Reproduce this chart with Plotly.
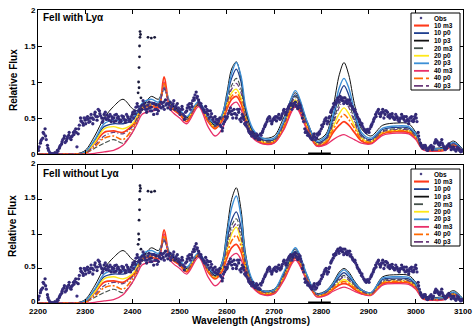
import plotly.graph_objects as go

W, H = 473, 328

# ---------------- data ----------------
model_wavelength = [2200, 2280, 2300, 2320, 2340, 2360, 2380, 2400, 2410, 2420,
                    2440, 2455, 2467, 2480, 2500, 2515, 2540, 2560, 2575, 2590,
                    2600, 2610, 2620, 2630, 2640, 2655, 2675, 2700, 2720, 2745,
                    2770, 2790, 2810, 2825, 2838, 2848, 2858, 2870, 2885, 2905,
                    2930, 2960, 2985, 3000, 3015, 3040, 3060, 3080, 3100]

obs_wavelength = list(range(2200, 3105, 5))
obs_flux = [
    0.08, 0.15, 0.22, 0.35, 0.12, 0.02, 0.0, 0.0, 0.01, 0.08, 0.14, 0.22, 0.18, 0.26, 0.2, 0.3, 0.35, 0.28, 0.5, 0.43,
    0.47, 0.52, 0.45, 0.5, 0.55, 0.47, 0.6, 0.5, 0.55, 0.48, 0.52, 0.45, 0.5, 0.46, 0.52, 0.47, 0.5, 0.44, 0.52, 0.48,
    0.55, 0.6, 0.7, 0.62, 0.62, 0.7, 0.58, 0.72, 0.65, 0.55, 0.68, 0.6, 0.72, 0.66, 0.75, 0.64, 0.72, 0.68, 0.62, 0.7,
    0.58, 0.66, 0.48, 0.6, 0.65, 0.7, 0.78, 0.86, 0.75, 0.7, 0.62, 0.66, 0.55, 0.6, 0.48, 0.52, 0.42, 0.5, 0.32, 0.45,
    0.5, 0.6, 0.55, 0.62, 0.5, 0.58, 0.45, 0.52, 0.4, 0.35, 0.28, 0.3, 0.22, 0.26, 0.2, 0.3, 0.38, 0.45, 0.52, 0.42,
    0.5, 0.46, 0.55, 0.5, 0.6, 0.55, 0.64, 0.7, 0.66, 0.72, 0.63, 0.68, 0.5, 0.35, 0.3, 0.25, 0.2, 0.28, 0.22, 0.3,
    0.35, 0.42, 0.5, 0.45, 0.58, 0.65, 0.72, 0.78, 0.8, 0.74, 0.78, 0.7, 0.75, 0.66, 0.6, 0.55, 0.48, 0.4, 0.35, 0.3,
    0.32, 0.38, 0.45, 0.55, 0.6, 0.52, 0.62, 0.55, 0.58, 0.5, 0.56, 0.48, 0.52, 0.45, 0.55, 0.48, 0.52, 0.42, 0.5, 0.45,
    0.55, 0.3, 0.15, 0.08, 0.12, 0.05, 0.1, 0.06, 0.15, 0.18, 0.12, 0.2, 0.1, 0.08, 0.14, 0.06, 0.1, 0.04, 0.08, 0.03, 0.05,
]
# second set of observed points, interleaved half a step
obs_wavelength_b = [2202.5 + 5 * k for k in range(180)]
obs_flux_b = [
    0.1, 0.2, 0.28, 0.2, 0.05, 0.0, 0.0, 0.0, 0.04, 0.12, 0.2, 0.16, 0.24, 0.22, 0.25, 0.32, 0.1, 0.4, 0.45, 0.5,
    0.5, 0.44, 0.55, 0.48, 0.52, 0.62, 0.53, 0.46, 0.58, 0.5, 0.55, 0.49, 0.54, 0.5, 0.44, 0.53, 0.48, 0.55, 0.46, 0.52,
    0.5, 0.65, 0.6, 0.66, 0.74, 0.62, 0.68, 0.6, 0.7, 0.62, 0.56, 0.66, 0.7, 0.62, 0.7, 0.68, 0.66, 0.74, 0.67, 0.64,
    0.62, 0.55, 0.58, 0.68, 0.62, 0.74, 0.82, 0.8, 0.68, 0.64, 0.58, 0.62, 0.5, 0.56, 0.45, 0.48, 0.46, 0.38, 0.42, 0.48,
    0.56, 0.64, 0.5, 0.56, 0.62, 0.48, 0.55, 0.42, 0.38, 0.3, 0.25, 0.24, 0.28, 0.22, 0.26, 0.35, 0.42, 0.5, 0.46, 0.48,
    0.52, 0.5, 0.48, 0.56, 0.58, 0.62, 0.68, 0.62, 0.7, 0.66, 0.7, 0.6, 0.45, 0.32, 0.28, 0.22, 0.25, 0.2, 0.26, 0.32,
    0.38, 0.48, 0.42, 0.52, 0.62, 0.68, 0.75, 0.72, 0.78, 0.7, 0.74, 0.72, 0.7, 0.62, 0.58, 0.5, 0.44, 0.38, 0.32, 0.34,
    0.35, 0.42, 0.5, 0.58, 0.56, 0.58, 0.5, 0.6, 0.54, 0.52, 0.5, 0.55, 0.47, 0.5, 0.52, 0.45, 0.48, 0.5, 0.46, 0.52,
    0.45, 0.2, 0.1, 0.12, 0.06, 0.08, 0.12, 0.1, 0.2, 0.14, 0.16, 0.12, 0.06, 0.12, 0.1, 0.08, 0.06, 0.1, 0.05, 0.04,
]
# third set of observed points
obs_wavelength_c = [2201 + 5 * k for k in range(180)]
obs_flux_c = [
    0.05, 0.18, 0.3, 0.25, 0.08, 0.01, 0.0, 0.02, 0.05, 0.1, 0.17, 0.25, 0.21, 0.3, 0.24, 0.27, 0.3, 0.35, 0.46, 0.4,
    0.42, 0.48, 0.5, 0.42, 0.58, 0.52, 0.56, 0.44, 0.5, 0.54, 0.47, 0.52, 0.45, 0.55, 0.49, 0.45, 0.52, 0.47, 0.5, 0.45,
    0.58, 0.56, 0.66, 0.58, 0.68, 0.66, 0.62, 0.64, 0.6, 0.7, 0.62, 0.68, 0.64, 0.72, 0.68, 0.7, 0.62, 0.7, 0.65, 0.6,
    0.55, 0.62, 0.52, 0.64, 0.7, 0.66, 0.75, 0.78, 0.72, 0.66, 0.6, 0.58, 0.6, 0.52, 0.5, 0.44, 0.48, 0.4, 0.36, 0.52,
    0.52, 0.58, 0.6, 0.56, 0.54, 0.62, 0.5, 0.48, 0.44, 0.32, 0.3, 0.26, 0.24, 0.2, 0.28, 0.32, 0.4, 0.48, 0.5, 0.45,
    0.48, 0.52, 0.5, 0.53, 0.62, 0.58, 0.66, 0.68, 0.7, 0.68, 0.66, 0.64, 0.55, 0.3, 0.26, 0.24, 0.22, 0.24, 0.28, 0.28,
    0.4, 0.45, 0.46, 0.5, 0.6, 0.7, 0.7, 0.75, 0.76, 0.78, 0.72, 0.75, 0.68, 0.64, 0.62, 0.52, 0.46, 0.42, 0.34, 0.32,
    0.3, 0.4, 0.48, 0.52, 0.62, 0.55, 0.58, 0.6, 0.52, 0.55, 0.52, 0.5, 0.5, 0.48, 0.5, 0.52, 0.46, 0.46, 0.52, 0.48,
    0.5, 0.25, 0.12, 0.1, 0.09, 0.06, 0.1, 0.08, 0.17, 0.16, 0.14, 0.15, 0.08, 0.1, 0.12, 0.1, 0.07, 0.06, 0.07, 0.05,
]

# Ly-alpha spike points of the observed spectrum
lya_wavelength = [2412, 2413, 2414, 2414, 2415, 2415, 2416, 2416, 2417, 2418, 2433, 2440, 2447]
lya_flux = [0.85, 1.0, 0.92, 1.2, 1.35, 1.5, 1.62, 1.7, 1.66, 0.78, 1.62, 1.61, 1.62]

masked_wavelength = [2772, 2820]
masked_flux = [0.0, 0.0]

model_names = ["10 m3", "10 p0", "10 p3", "20 m3", "20 p0", "20 p3", "40 m3", "40 p0", "40 p3"]

# FeII with Ly-alpha (top panel)
top_10m3 = [0, 0, 0.02, 0.15, 0.3, 0.32, 0.3, 0.4, 0.5, 0.64, 0.66, 0.65, 1.07, 0.66, 0.55, 0.45, 0.7, 0.45, 0.35, 0.46, 0.62, 0.76, 0.8, 0.7, 0.46, 0.25, 0.15, 0.16, 0.35, 0.68, 0.35, 0.12, 0.15, 0.3, 0.4, 0.45, 0.4, 0.3, 0.18, 0.15, 0.28, 0.31, 0.3, 0.22, 0.07, 0.04, 0.05, 0.12, 0.04]
top_10p0 = [0, 0, 0.02, 0.18, 0.38, 0.42, 0.42, 0.47, 0.56, 0.68, 0.72, 0.7, 0.9, 0.7, 0.6, 0.5, 0.72, 0.5, 0.4, 0.52, 0.78, 1.05, 1.18, 1.0, 0.6, 0.32, 0.2, 0.2, 0.42, 0.82, 0.42, 0.16, 0.22, 0.5, 0.82, 0.95, 0.82, 0.55, 0.27, 0.2, 0.34, 0.37, 0.36, 0.26, 0.09, 0.06, 0.07, 0.15, 0.05]
top_10p3 = [0, 0, 0.05, 0.25, 0.5, 0.66, 0.76, 0.63, 0.6, 0.65, 0.8, 0.76, 0.92, 0.7, 0.6, 0.5, 0.68, 0.5, 0.4, 0.55, 0.85, 1.18, 1.28, 1.05, 0.6, 0.3, 0.22, 0.25, 0.5, 0.85, 0.45, 0.2, 0.28, 0.65, 1.1, 1.27, 1.1, 0.7, 0.35, 0.25, 0.4, 0.43, 0.42, 0.3, 0.12, 0.08, 0.1, 0.18, 0.06]
top_20m3 = [0, 0, 0.01, 0.08, 0.15, 0.2, 0.15, 0.3, 0.45, 0.6, 0.68, 0.68, 0.95, 0.68, 0.58, 0.48, 0.7, 0.48, 0.38, 0.5, 0.72, 0.95, 1.05, 0.9, 0.55, 0.3, 0.19, 0.19, 0.4, 0.8, 0.4, 0.15, 0.2, 0.45, 0.7, 0.8, 0.7, 0.48, 0.25, 0.18, 0.32, 0.35, 0.34, 0.25, 0.08, 0.05, 0.06, 0.14, 0.04]
top_20p0 = [0, 0, 0.02, 0.16, 0.35, 0.38, 0.35, 0.42, 0.52, 0.65, 0.7, 0.68, 0.95, 0.68, 0.58, 0.48, 0.72, 0.48, 0.37, 0.5, 0.68, 0.85, 0.9, 0.78, 0.5, 0.27, 0.17, 0.18, 0.38, 0.75, 0.38, 0.14, 0.18, 0.38, 0.56, 0.64, 0.56, 0.4, 0.22, 0.17, 0.3, 0.33, 0.32, 0.24, 0.08, 0.05, 0.06, 0.13, 0.04]
top_20p3 = [0, 0, 0.03, 0.2, 0.42, 0.47, 0.46, 0.5, 0.58, 0.7, 0.76, 0.72, 0.93, 0.72, 0.62, 0.52, 0.73, 0.52, 0.42, 0.55, 0.8, 1.12, 1.27, 1.08, 0.65, 0.35, 0.22, 0.22, 0.45, 0.88, 0.45, 0.18, 0.25, 0.55, 0.92, 1.05, 0.92, 0.6, 0.3, 0.22, 0.36, 0.39, 0.38, 0.28, 0.1, 0.07, 0.08, 0.16, 0.05]
top_40m3 = [0, 0, 0.0, 0.01, 0.03, 0.05, 0.12, 0.3, 0.42, 0.55, 0.6, 0.62, 1.0, 0.62, 0.5, 0.42, 0.66, 0.38, 0.25, 0.35, 0.52, 0.68, 0.72, 0.62, 0.4, 0.22, 0.14, 0.15, 0.33, 0.65, 0.33, 0.11, 0.13, 0.2, 0.25, 0.27, 0.24, 0.2, 0.15, 0.14, 0.26, 0.29, 0.28, 0.2, 0.06, 0.04, 0.05, 0.11, 0.03]
top_40p0 = [0, 0, 0.01, 0.1, 0.22, 0.25, 0.2, 0.35, 0.48, 0.62, 0.68, 0.66, 0.98, 0.66, 0.56, 0.46, 0.7, 0.46, 0.36, 0.48, 0.65, 0.8, 0.85, 0.74, 0.48, 0.26, 0.16, 0.17, 0.37, 0.72, 0.37, 0.13, 0.17, 0.34, 0.48, 0.55, 0.48, 0.36, 0.2, 0.16, 0.29, 0.32, 0.31, 0.23, 0.07, 0.05, 0.06, 0.13, 0.04]
top_40p3 = [0, 0, 0.01, 0.12, 0.25, 0.3, 0.28, 0.38, 0.5, 0.63, 0.7, 0.68, 0.92, 0.68, 0.58, 0.48, 0.7, 0.48, 0.38, 0.5, 0.7, 0.9, 0.98, 0.85, 0.52, 0.28, 0.18, 0.18, 0.4, 0.78, 0.4, 0.14, 0.2, 0.42, 0.65, 0.75, 0.65, 0.45, 0.24, 0.18, 0.31, 0.34, 0.33, 0.24, 0.08, 0.05, 0.06, 0.14, 0.04]

# FeII without Ly-alpha (bottom panel)
bot_10m3 = [0, 0, 0.02, 0.15, 0.3, 0.32, 0.3, 0.4, 0.5, 0.64, 0.66, 0.65, 1.06, 0.66, 0.55, 0.45, 0.7, 0.45, 0.35, 0.46, 0.65, 0.8, 0.85, 0.74, 0.46, 0.24, 0.13, 0.14, 0.34, 0.65, 0.33, 0.1, 0.12, 0.2, 0.26, 0.28, 0.26, 0.2, 0.14, 0.12, 0.28, 0.3, 0.29, 0.22, 0.07, 0.04, 0.05, 0.12, 0.04]
bot_10p0 = [0, 0, 0.02, 0.18, 0.38, 0.42, 0.42, 0.47, 0.56, 0.68, 0.72, 0.7, 0.9, 0.7, 0.6, 0.5, 0.72, 0.5, 0.4, 0.56, 0.9, 1.2, 1.32, 1.1, 0.6, 0.3, 0.17, 0.18, 0.4, 0.75, 0.38, 0.12, 0.16, 0.26, 0.38, 0.44, 0.38, 0.28, 0.18, 0.14, 0.34, 0.36, 0.35, 0.26, 0.09, 0.06, 0.07, 0.15, 0.05]
bot_10p3 = [0, 0, 0.05, 0.25, 0.5, 0.66, 0.76, 0.63, 0.6, 0.65, 0.8, 0.76, 0.92, 0.7, 0.6, 0.5, 0.68, 0.5, 0.4, 0.6, 1.05, 1.5, 1.67, 1.35, 0.7, 0.3, 0.18, 0.2, 0.42, 0.78, 0.4, 0.14, 0.18, 0.3, 0.45, 0.5, 0.45, 0.32, 0.2, 0.15, 0.38, 0.41, 0.4, 0.3, 0.12, 0.08, 0.1, 0.18, 0.06]
bot_20m3 = [0, 0, 0.01, 0.08, 0.15, 0.2, 0.15, 0.3, 0.45, 0.6, 0.68, 0.68, 0.95, 0.68, 0.58, 0.48, 0.7, 0.48, 0.38, 0.54, 0.85, 1.12, 1.22, 1.02, 0.56, 0.28, 0.16, 0.17, 0.39, 0.73, 0.37, 0.12, 0.15, 0.25, 0.35, 0.4, 0.35, 0.26, 0.17, 0.13, 0.32, 0.34, 0.33, 0.25, 0.08, 0.05, 0.06, 0.14, 0.04]
bot_20p0 = [0, 0, 0.02, 0.16, 0.35, 0.38, 0.35, 0.42, 0.52, 0.65, 0.7, 0.68, 0.95, 0.68, 0.58, 0.48, 0.72, 0.48, 0.37, 0.5, 0.75, 1.0, 1.1, 0.9, 0.52, 0.26, 0.15, 0.16, 0.37, 0.7, 0.35, 0.11, 0.14, 0.22, 0.3, 0.34, 0.3, 0.23, 0.16, 0.13, 0.3, 0.32, 0.31, 0.24, 0.08, 0.05, 0.06, 0.13, 0.04]
bot_20p3 = [0, 0, 0.03, 0.2, 0.42, 0.47, 0.46, 0.5, 0.58, 0.7, 0.76, 0.72, 0.93, 0.72, 0.62, 0.52, 0.73, 0.52, 0.42, 0.58, 0.98, 1.38, 1.55, 1.25, 0.66, 0.32, 0.18, 0.19, 0.44, 0.8, 0.4, 0.13, 0.17, 0.28, 0.42, 0.48, 0.42, 0.3, 0.19, 0.15, 0.36, 0.38, 0.37, 0.28, 0.1, 0.07, 0.08, 0.16, 0.05]
bot_40m3 = [0, 0, 0.0, 0.01, 0.03, 0.05, 0.12, 0.3, 0.42, 0.55, 0.6, 0.62, 1.0, 0.62, 0.5, 0.42, 0.66, 0.38, 0.25, 0.35, 0.55, 0.68, 0.72, 0.63, 0.4, 0.22, 0.12, 0.13, 0.32, 0.62, 0.31, 0.09, 0.11, 0.17, 0.21, 0.23, 0.21, 0.17, 0.13, 0.11, 0.26, 0.28, 0.27, 0.2, 0.06, 0.04, 0.05, 0.11, 0.03]
bot_40p0 = [0, 0, 0.01, 0.1, 0.22, 0.25, 0.2, 0.35, 0.48, 0.62, 0.68, 0.66, 0.98, 0.66, 0.56, 0.46, 0.7, 0.46, 0.36, 0.48, 0.7, 0.9, 0.98, 0.82, 0.5, 0.25, 0.14, 0.15, 0.36, 0.67, 0.34, 0.11, 0.13, 0.21, 0.28, 0.31, 0.28, 0.22, 0.15, 0.12, 0.29, 0.31, 0.3, 0.23, 0.07, 0.05, 0.06, 0.13, 0.04]
bot_40p3 = [0, 0, 0.01, 0.12, 0.25, 0.3, 0.28, 0.38, 0.5, 0.63, 0.7, 0.68, 0.92, 0.68, 0.58, 0.48, 0.7, 0.48, 0.38, 0.52, 0.8, 1.05, 1.15, 0.95, 0.54, 0.27, 0.16, 0.16, 0.38, 0.7, 0.36, 0.12, 0.15, 0.24, 0.33, 0.38, 0.33, 0.25, 0.17, 0.13, 0.31, 0.33, 0.32, 0.24, 0.08, 0.05, 0.06, 0.14, 0.04]

top_models = [top_10m3, top_10p0, top_10p3, top_20m3, top_20p0, top_20p3, top_40m3, top_40p0, top_40p3]
bot_models = [bot_10m3, bot_10p0, bot_10p3, bot_20m3, bot_20p0, bot_20p3, bot_40m3, bot_40p0, bot_40p3]

# ---------------- styles ----------------
model_colors = ["#ff3a1a", "#1f3f8f", "#111111", "#44504a", "#ffe81a", "#3c8fd6", "#e8306a", "#ff6a00", "#6a3a7a"]
model_dashes = ["solid", "solid", "solid", "5px,2px", "solid", "solid", "solid", "6px,2px,2px,2px", "5px,2px,1px,2px"]
legend_dashes = ["solid", "solid", "solid", "dash", "solid", "solid", "solid", "dashdot", "dashdot"]
model_widths = [1.7, 1.3, 1.0, 1.1, 1.4, 1.4, 1.3, 1.5, 1.2]
obs_color = "#2e2670"
FONT = "Liberation Sans"

fig = go.Figure()

obs_sets = [(obs_wavelength, obs_flux, "#2e2670"),
            (obs_wavelength_b, obs_flux_b, "#3a2f80"),
            (obs_wavelength_c, obs_flux_c, "#332a78")]

panels = [(top_models, "x", "y"), (bot_models, "x2", "y2")]
for models, xa, ya in panels:
    for name, vals, col, dash, w in zip(model_names, models, model_colors, model_dashes, model_widths):
        fig.add_trace(go.Scatter(
            x=model_wavelength, y=vals, mode="lines", name=name,
            line=dict(color=col, width=w, dash=dash, shape="spline", smoothing=0.9),
            xaxis=xa, yaxis=ya, showlegend=False, hoverinfo="skip"))
    for ox, oy, oc in obs_sets:
        fig.add_trace(go.Scatter(
            x=ox, y=oy, mode="markers", name="Obs",
            marker=dict(color=oc, size=3.3),
            xaxis=xa, yaxis=ya, showlegend=False))
    fig.add_trace(go.Scatter(
        x=lya_wavelength, y=lya_flux, mode="markers", name="Obs",
        marker=dict(color="#1a1a3a", size=2.8),
        xaxis=xa, yaxis=ya, showlegend=False))
    fig.add_trace(go.Scatter(
        x=masked_wavelength, y=masked_flux, mode="lines",
        line=dict(color="black", width=3),
        xaxis=xa, yaxis=ya, showlegend=False))


def px(x):
    return x / W


def py(y):
    return 1 - y / H


xdom = [px(38), px(463)]
axis_x = dict(range=[2200, 3100], tick0=2200, dtick=100, ticks="inside", ticklen=4,
              tickcolor="black", showline=True, linecolor="black", linewidth=1,
              mirror="ticks", showgrid=False, zeroline=False, domain=xdom, automargin=False,
              tickfont=dict(family=FONT, size=8, color="black", weight="bold"))
axis_y = dict(range=[0, 2], tickvals=[0, 0.5, 1, 1.5, 2], ticktext=["0", "0.5", "1", "1.5", "2"],
              ticks="inside", ticklen=4, tickcolor="black", showline=True, linecolor="black",
              linewidth=1, mirror="ticks", showgrid=False, zeroline=False, automargin=False,
              tickfont=dict(family=FONT, size=8, color="black", weight="bold"))

fig.update_layout(
    width=W, height=H, margin=dict(l=0, r=0, t=0, b=0, autoexpand=False),
    paper_bgcolor="white", plot_bgcolor="white", showlegend=False,
    xaxis=dict(axis_x, anchor="y", showticklabels=False),
    yaxis=dict(axis_y, anchor="x", domain=[py(154), py(10)]),
    xaxis2=dict(axis_x, anchor="y2", ticklabelstandoff=0),
    yaxis2=dict(axis_y, anchor="x2", domain=[py(303), py(165)], ticklabelshift=-2),
)

ann = []
shapes = []
# axis titles
for yc in (80, 226):
    ann.append(dict(x=px(13), y=py(yc), xref="paper", yref="paper", text="Relative Flux",
                    textangle=-90, showarrow=False, xanchor="center", yanchor="middle",
                    font=dict(family=FONT, size=10, color="black", weight="bold")))
ann.append(dict(x=px(251), y=py(320), xref="paper", yref="paper", text="Wavelength (Angstroms)",
                showarrow=False, xanchor="center", yanchor="middle",
                font=dict(family=FONT, size=10, color="black", weight="bold")))
# panel titles
for yc, t in ((17, "FeII with Ly\u03b1"), (173, "FeII without Ly\u03b1")):
    ann.append(dict(x=px(41), y=py(yc), xref="paper", yref="paper", text=t, xanchor="left",
                    yanchor="middle", showarrow=False,
                    font=dict(family=FONT, size=10, color="black", weight="bold")))

# custom legends
for top_y, box in ((18, (411, 13, 460, 90)), (174, (411, 169, 460, 246))):
    shapes.append(dict(type="rect", xref="paper", yref="paper", x0=px(box[0]), y0=py(box[1]),
                       x1=px(box[2]), y1=py(box[3]), line=dict(color="black", width=1),
                       fillcolor="white", layer="above"))
    labels = ["Obs"] + model_names
    for i, lab in enumerate(labels):
        yy = top_y + i * 7.55
        ann.append(dict(x=px(432), y=py(yy), xref="paper", yref="paper", text=lab, xanchor="left",
                        yanchor="middle", showarrow=False,
                        font=dict(family=FONT, size=6.5, color="black", weight="bold")))
        if i == 0:
            shapes.append(dict(type="circle", xref="paper", yref="paper",
                               x0=px(420), x1=px(422), y0=py(yy - 1), y1=py(yy + 1),
                               fillcolor=obs_color, line=dict(color=obs_color, width=0.5), layer="above"))
        else:
            k = i - 1
            shapes.append(dict(type="line", xref="paper", yref="paper", x0=px(414), x1=px(429),
                               y0=py(yy), y1=py(yy),
                               line=dict(color=model_colors[k], width=max(model_widths[k], 1.4) + 0.4,
                                         dash=legend_dashes[k]), layer="above"))

fig.update_layout(annotations=ann, shapes=shapes)
fig.write_html("out.html")
